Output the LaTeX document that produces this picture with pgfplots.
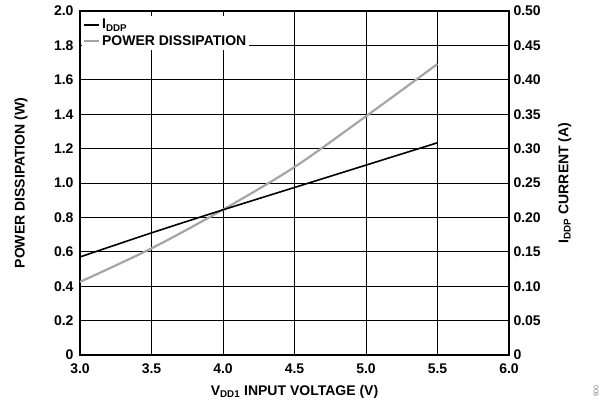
\documentclass[border=0pt]{standalone}
\usepackage{pgfplots}
\pgfplotsset{compat=1.18}
\usepackage{fontspec}
\setmainfont{Liberation Sans}
\definecolor{pdgray}{RGB}{165,165,165}

\pgfplotstableread{
v     p
3.0   0.425
3.5   0.620
4.0   0.845
4.5   1.093
5.0   1.388
5.5   1.692
}\powertab

\pgfplotstableread{
v     i
3.0   0.1425
3.5   0.1775
4.0   0.2110
4.5   0.2435
5.0   0.2760
5.5   0.3085
}\iddptab

\begin{document}
\begin{tikzpicture}[font=\fontsize{14}{16}\selectfont\bfseries]
\path[use as bounding box] (-80pt,-49pt) rectangle (533pt,355pt);
\pgfplotsset{
  every axis/.append style={
    scale only axis, width=429pt, height=344pt,
    xmin=3, xmax=6,
    axis line style={line width=1.3pt},
    /pgf/number format/assume math mode=true,
    tick label style={font=\fontsize{14}{16}\selectfont\bfseries},
    label style={font=\fontsize{14}{16}\selectfont\bfseries},
    tick align=inside, major tick length=6pt,
    tick style={black, line width=0.9pt},
  }
}
\begin{axis}[
  at={(0pt,0pt)}, anchor=south west,
  ymin=0, ymax=2,
  xtick={3,3.5,...,6},
  xticklabels={3.0,3.5,4.0,4.5,5.0,5.5,6.0},
  ytick={0,0.2,...,2.0},
  yticklabels={0,0.2,0.4,0.6,0.8,1.0,1.2,1.4,1.6,1.8,2.0},
  grid=major,
  grid style={black, line width=0.9pt},
  xlabel={V\textsubscript{DD1} INPUT VOLTAGE (V)},
  ylabel={POWER DISSIPATION (W)},
  xlabel style={at={(0.5,-0.108)}, anchor=center},
  ylabel style={at={(-0.1375,0.5)}, anchor=center},
  xticklabel style={yshift=-5pt},
  yticklabel style={xshift=-3pt},
]
\addplot[pdgray, line width=2.2pt, smooth] table[x=v, y=p] {\powertab};
\end{axis}
\begin{axis}[
  at={(0pt,0pt)}, anchor=south west,
  axis x line=none,
  axis y line*=right,
  ymin=0, ymax=0.5,
  ytick={0,0.05,...,0.5},
  yticklabels={0,0.05,0.10,0.15,0.20,0.25,0.30,0.35,0.40,0.45,0.50},
  yticklabel style={xshift=1pt},
  ylabel={I\textsubscript{DDP} CURRENT (A)},
  ylabel style={at={(1.13,0.5)}, anchor=center},
  legend style={at={(0.004,0.985)}, anchor=north west, draw=none, fill=white,
    inner sep=1pt, row sep=1pt,
    font=\fontsize{14}{16}\selectfont\bfseries},
  legend cell align=left,
  legend image code/.code={\draw[#1] (0cm,0cm) -- (15pt,0cm);},
]
\addplot[black, line width=1.6pt, smooth] table[x=v, y=i] {\iddptab};
\addlegendentry{I\textsubscript{DDP}}
\addlegendimage{pdgray, line width=2.2pt}
\addlegendentry{POWER DISSIPATION}
\end{axis}
\node[rotate=-90, font=\fontsize{7}{8}\selectfont, gray] at (516pt,-36pt) {009};
\end{tikzpicture}
\end{document}
